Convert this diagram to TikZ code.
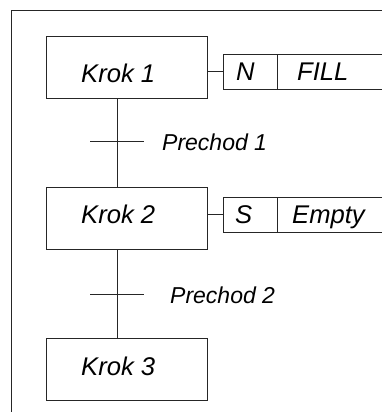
\documentclass[tikz,border=0pt]{standalone}
\usepackage{fontspec}
\setmainfont{Liberation Sans}
\begin{document}
\begin{tikzpicture}[x=1pt,y=-1pt,
  ln/.style={draw=black!85,line width=0.8pt},
  stepbox/.style={ln,minimum width=161pt,minimum height=62pt,inner sep=0pt},
  qual/.style={ln,minimum width=54pt,minimum height=35pt,inner sep=0pt},
  actbox/.style={ln,minimum width=110pt,minimum height=35pt,inner sep=0pt,anchor=west},
  txt/.style={inner sep=0pt,anchor=base west,font=\fontsize{25.6}{30}\selectfont\itshape},
  trlabel/.style={inner sep=0pt,anchor=base west,font=\fontsize{23}{27}\selectfont\itshape}]
\clip (0,0) rectangle (382,412);
\fill[white] (0,0) rectangle (382,412);
% frame
\draw[ln] (11,414) -- (11,10) -- (384,10);
% steps
\node[stepbox] (k1) at (126.5,67.5) {};
\node[stepbox] (k2) at (126.5,218) {};
\node[stepbox] (k3) at (126.5,369) {};
\node[txt] (l1) at (81,82) {Krok 1};
\node[txt] (l2) at (81,223) {Krok 2};
\node[txt] (l3) at (81,375) {Krok 3};
% actions
\node[qual] (q1) at (250,71.7) {};
\node[actbox] (a1) at (q1.east) {};
\node[txt] (n1) at (236,81) {N};
\node[txt] (t1) at (297,81) {FILL};
\node[qual] (q2) at (250,214.5) {};
\node[actbox] (a2) at (q2.east) {};
\node[txt] (n2) at (235,223) {S};
\node[txt] (t2) at (292,223) {Empty};
\draw[ln] (k1.east |- q1.west) -- (q1.west);
\draw[ln] (k2.east |- q2.west) -- (q2.west);
% connections
\draw[ln] ([xshift=-9.5pt]k1.south) -- ([xshift=-9.5pt]k2.north);
\draw[ln] ([xshift=-9.5pt]k2.south) -- ([xshift=-9.5pt]k3.north);
% transitions
\coordinate (tr1) at (117,141);
\coordinate (tr2) at (117,294);
\draw[ln] ([xshift=-27pt]tr1) -- ([xshift=27pt]tr1);
\draw[ln] ([xshift=-27pt]tr2) -- ([xshift=27pt]tr2);
\node[trlabel] (p1) at (162,150) {Prechod 1};
\node[trlabel] (p2) at (170,303) {Prechod 2};
\end{tikzpicture}
\end{document}
